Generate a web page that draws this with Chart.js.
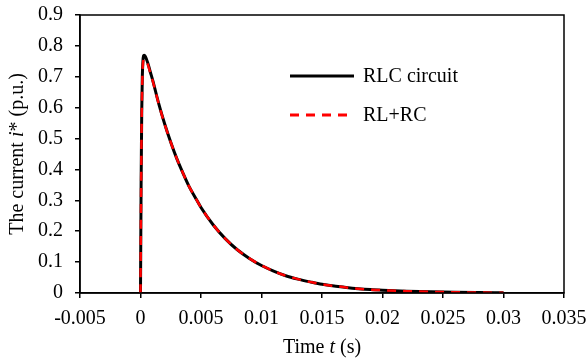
<!DOCTYPE html>
<html>
<head>
<meta charset="utf-8">
<script src="https://cdn.jsdelivr.net/npm/chart.js"></script>
<style>
  html, body { margin: 0; padding: 0; background: #fff; }
  #wrap { width: 587px; height: 363px; }
</style>
</head>
<body>
<div id="wrap"><canvas id="myChart" width="587" height="363"></canvas></div>
<script>
// time (s)
const timeS = [0, 0.00005, 0.0001, 0.00015, 0.0002, 0.0003, 0.0004, 0.0006, 0.0008, 0.001,
  0.0015, 0.002, 0.0025, 0.003, 0.0035, 0.004, 0.0045, 0.005, 0.006, 0.007,
  0.008, 0.009, 0.01, 0.011, 0.012, 0.013, 0.014, 0.015, 0.016, 0.017,
  0.018, 0.019, 0.02, 0.022, 0.024, 0.026, 0.028, 0.03];
// RLC circuit current (p.u.)
const rlcCurrent = [0, 0.35, 0.58, 0.70, 0.75, 0.77, 0.766, 0.745, 0.717, 0.69,
  0.614, 0.547, 0.488, 0.435, 0.389, 0.346, 0.311, 0.277, 0.221, 0.176,
  0.14, 0.112, 0.089, 0.071, 0.056, 0.045, 0.036, 0.028, 0.023, 0.018,
  0.014, 0.011, 0.009, 0.006, 0.0037, 0.0023, 0.0015, 0.0009];
// RL+RC approximation (p.u.)
const rlrcCurrent = [0, 0.34, 0.57, 0.69, 0.74, 0.757, 0.756, 0.74, 0.714, 0.688,
  0.613, 0.546, 0.488, 0.435, 0.389, 0.346, 0.311, 0.277, 0.221, 0.176,
  0.14, 0.112, 0.089, 0.071, 0.056, 0.045, 0.036, 0.028, 0.023, 0.018,
  0.014, 0.011, 0.009, 0.006, 0.0037, 0.0023, 0.0015, 0.0009];

const xTickLabels = ['-0.005', '0', '0.005', '0.01', '0.015', '0.02', '0.025', '0.03', '0.035'];
const yTickLabels = ['0', '0.1', '0.2', '0.3', '0.4', '0.5', '0.6', '0.7', '0.8', '0.9'];
const seriesNames = ['RLC circuit', 'RL+RC'];

const serif = "'Liberation Serif', 'Times New Roman', serif";

// frame, legend and axis titles (mixed italic)
const extras = {
  id: 'extras',
  afterDraw(chart) {
    const c = chart.ctx, a = chart.chartArea;
    c.save();
    c.strokeStyle = '#000';
    c.lineWidth = 1.5;
    c.strokeRect(a.left, a.top, a.right - a.left, a.bottom - a.top);

    // legend
    const ds = chart.data.datasets;
    const lx = a.left + 210, lw = 64, rows = [a.top + 61, a.top + 100];
    ds.forEach((d, i) => {
      c.beginPath();
      c.strokeStyle = d.borderColor;
      c.lineWidth = 3;
      c.setLineDash(d.borderDash || []);
      c.moveTo(lx, rows[i]);
      c.lineTo(lx + lw, rows[i]);
      c.stroke();
      c.setLineDash([]);
      c.fillStyle = '#000';
      c.font = '20px ' + serif;
      c.textBaseline = 'middle';
      c.textAlign = 'left';
      c.fillText(d.label, lx + 73, rows[i] + 1);
    });

    const drawParts = (parts, x, y) => {
      let w = 0;
      parts.forEach(p => { c.font = p[1] + '20px ' + serif; w += c.measureText(p[0]).width; });
      let cx = x - w / 2;
      parts.forEach(p => {
        c.font = p[1] + '20px ' + serif;
        c.fillText(p[0], cx, y);
        cx += c.measureText(p[0]).width;
      });
    };
    c.fillStyle = '#000';
    c.textBaseline = 'middle';
    c.textAlign = 'left';
    drawParts([['Time ', ''], ['t', 'italic '], [' (s)', '']], (a.left + a.right) / 2, 348);

    c.translate(18, (a.top + a.bottom) / 2);
    c.rotate(-Math.PI / 2);
    drawParts([['The current ', ''], ['i', 'italic '], ['* (p.u.)', '']], 0, 0);
    c.restore();
  }
};

new Chart(document.getElementById('myChart'), {
  type: 'line',
  data: {
    datasets: [
      {
        label: seriesNames[0],
        data: timeS.map((t, i) => ({ x: t, y: rlcCurrent[i] })),
        borderColor: '#000',
        borderWidth: 3,
        pointRadius: 0,
        cubicInterpolationMode: 'monotone',
        order: 2
      },
      {
        label: seriesNames[1],
        data: timeS.map((t, i) => ({ x: t, y: rlrcCurrent[i] })),
        borderColor: '#ff0000',
        borderWidth: 2.5,
        borderDash: [9, 7],
        pointRadius: 0,
        cubicInterpolationMode: 'monotone',
        order: 1
      }
    ]
  },
  options: {
    responsive: false,
    animation: false,
    layout: { padding: { top: 15, right: 23, left: 0, bottom: 0 } },
    plugins: { legend: { display: false }, tooltip: { enabled: false } },
    scales: {
      x: {
        type: 'linear',
        min: -0.005,
        max: 0.035,
        afterFit(s) { s.height = 70; s.paddingLeft = 0; s.paddingRight = 0; },
        afterBuildTicks(s) { s.ticks = xTickLabels.map(v => ({ value: parseFloat(v) })); },
        ticks: {
          autoSkip: false,
          maxRotation: 0,
          color: '#000',
          padding: 9,
          font: { family: serif, size: 20 },
          callback: (v, i) => xTickLabels[i]
        },
        grid: { drawOnChartArea: false, drawTicks: true, tickLength: 5, color: '#000', lineWidth: 1.5 },
        border: { display: true, color: '#000', width: 1.5 }
      },
      y: {
        min: 0,
        max: 0.9,
        afterFit(s) { s.width = 80; s.paddingTop = 0; s.paddingBottom = 0; },
        afterBuildTicks(s) { s.ticks = yTickLabels.map(v => ({ value: parseFloat(v) })); },
        ticks: {
          autoSkip: false,
          color: '#000',
          padding: 12,
          font: { family: serif, size: 20 },
          callback: (v, i) => yTickLabels[i]
        },
        grid: { drawOnChartArea: false, drawTicks: true, tickLength: 5, color: '#000', lineWidth: 1.5 },
        border: { display: true, color: '#000', width: 1.5 }
      }
    }
  },
  plugins: [extras]
});
</script>
</body>
</html>
